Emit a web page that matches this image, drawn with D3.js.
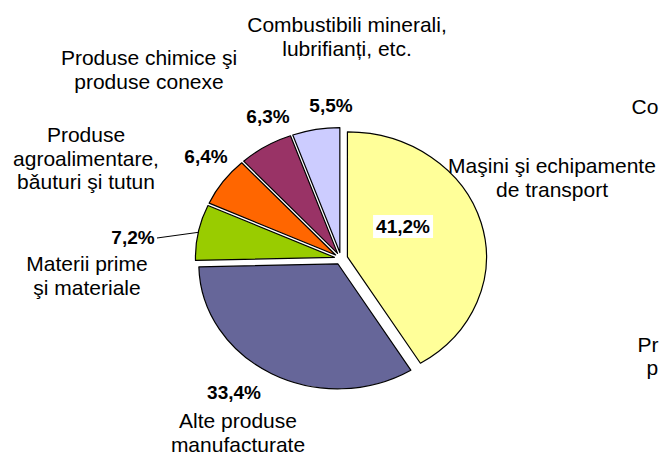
<!DOCTYPE html>
<html>
<head>
<meta charset="utf-8">
<script src="https://cdnjs.cloudflare.com/ajax/libs/d3/7.8.5/d3.min.js"></script>
<style>
  body { margin: 0; background: #fff; }
  svg { display: block; }
  text { font-family: "Liberation Sans", Arial, sans-serif; fill: #000; }
</style>
</head>
<body>
<script>
	// data
	var categories = ["Maşini şi echipamente de transport", "Alte produse manufacturate", "Materii prime şi materiale",
		"Produse agroalimentare, bǎuturi şi tutun", "Produse chimice şi produse conexe", "Combustibili minerali, lubrifianți, etc."];
	var values = [41.2, 33.4, 7.2, 6.4, 6.3, 5.5];
	var colors = ["#FFFF99", "#666699", "#99CC00", "#FF6600", "#993366", "#CCCCFF"];

	// label lines (how the category names are wrapped)
	var labelLines = [
		["Maşini şi echipamente", "de transport"],
		["Alte produse", "manufacturate"],
		["Materii prime", "şi materiale"],
		["Produse", "agroalimentare,", "bǎuturi şi tutun"],
		["Produse chimice şi", "produse conexe"],
		["Combustibili minerali,", "lubrifianți, etc."]
	];

	// what is visible of the labels of the next chart, at the right edge
	var edgeTexts = ["Co", "Pr", "p"];

	// layout
	var svg_w = 659, svg_h = 455;
	var cx = 341, cy = 258.5;
	var ry = 125, rx = 139;
	var sx = rx / ry;
	var explode = 6;
	var lineH = 23.5;
	// [x, y] of category label first baseline, and of percentage label baseline
	var catPos = [[552, 173], [238, 428], [87, 271], [86, 142], [149, 65], [347, 32]];
	var pctPos = [[403, 233], [234, 399], [133, 244], [206, 163], [268, 123], [331, 112]];
	var edgePos = [[631.5, 114], [637.5, 352], [646.5, 375]];

	var svg = d3.select("body").append("svg")
		.attr("width", svg_w)
		.attr("height", svg_h);

	var pie = d3.pie().sort(null).value(function(d) { return d; });
	var arcs = pie(values);

	var arc = d3.arc().innerRadius(0).outerRadius(ry);

	function offset(d) {
		var b = (d.startAngle + d.endAngle) / 2;
		return [explode * Math.sin(b) * sx, -explode * Math.cos(b)];
	}

	var slices = svg.append("g")
		.attr("transform", "translate(" + cx + "," + cy + ")")
		.selectAll("path")
		.data(arcs)
		.enter()
		.append("path")
		.attr("transform", function(d) {
			var o = offset(d);
			return "translate(" + o[0] + "," + o[1] + ") scale(" + sx + ",1)";
		})
		.attr("d", arc)
		.attr("fill", function(d, i) { return colors[i]; })
		.attr("stroke", "#000")
		.attr("stroke-width", 1.2)
		.attr("vector-effect", "non-scaling-stroke")
		.attr("stroke-linejoin", "round");

	// leader line for 7,2%
	var g = arcs[2];
	var b = (g.startAngle + g.endAngle) / 2;
	var o = offset(g);
	svg.append("line")
		.attr("x1", pctPos[2][0] + 24)
		.attr("y1", pctPos[2][1] - 6)
		.attr("x2", cx + o[0] + ry * Math.sin(b) * sx)
		.attr("y2", cy + o[1] - ry * Math.cos(b))
		.attr("stroke", "#000")
		.attr("stroke-width", 1);

	// category labels
	labelLines.forEach(function(lines, i) {
		var t = svg.append("text")
			.attr("text-anchor", "middle")
			.attr("font-size", "21px")
			.attr("x", catPos[i][0])
			.attr("y", catPos[i][1]);
		lines.forEach(function(l, j) {
			t.append("tspan").attr("x", catPos[i][0]).attr("y", catPos[i][1] + j * lineH).text(l);
		});
	});

	// percentage labels
	var fmt = function(v) { return d3.format(".1f")(v).replace(".", ",") + "%"; };
	values.forEach(function(v, i) {
		var t = svg.append("text")
			.attr("text-anchor", "middle")
			.attr("font-size", "19px")
			.attr("font-weight", "bold")
			.attr("x", pctPos[i][0])
			.attr("y", pctPos[i][1])
			.text(fmt(v));
		if (i == 0) {
			var bb = t.node().getBBox();
			svg.insert("rect", function() { return t.node(); })
				.attr("x", bb.x - 3)
				.attr("y", bb.y - 1)
				.attr("width", bb.width + 6)
				.attr("height", bb.height + 2)
				.attr("fill", "#fff");
		}
	});

	// labels of the neighbouring chart, at the right edge
	edgeTexts.forEach(function(s, i) {
		svg.append("text")
			.attr("font-size", "21px")
			.attr("x", edgePos[i][0])
			.attr("y", edgePos[i][1])
			.text(s);
	});
</script>
</body>
</html>
